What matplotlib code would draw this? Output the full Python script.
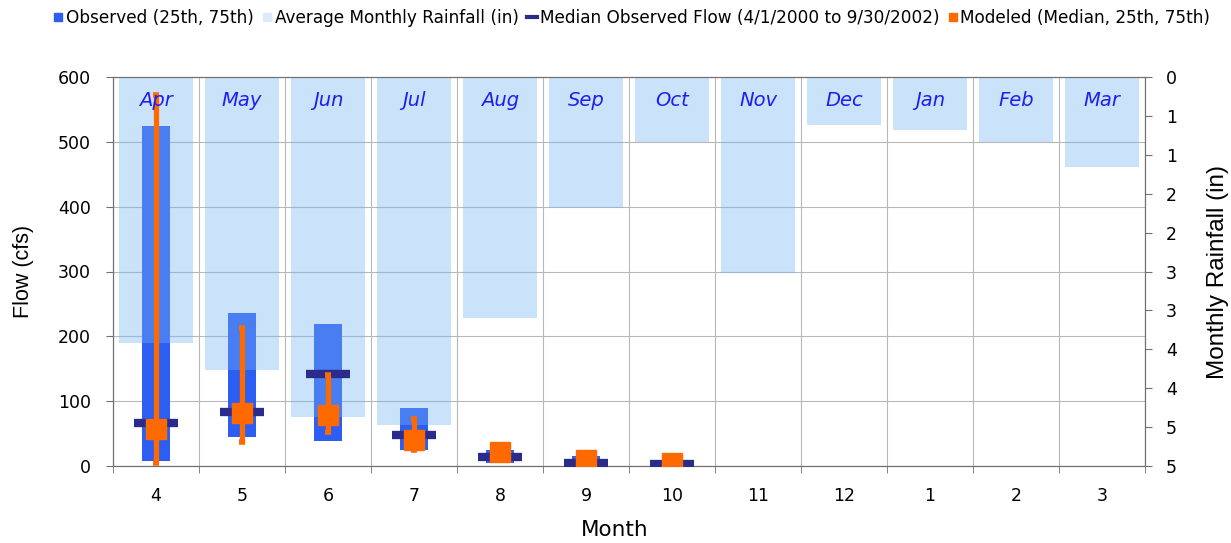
import numpy as np
import matplotlib
matplotlib.use("Agg")
import matplotlib.pyplot as plt
from matplotlib.lines import Line2D
import matplotlib.transforms as mtransforms

plt.rcParams['font.family'] = ['DejaVu Sans']

# ---- data ----
month_nums = ['4', '5', '6', '7', '8', '9', '10', '11', '12', '1', '2', '3']
month_names = ['Apr', 'May', 'Jun', 'Jul', 'Aug', 'Sep', 'Oct', 'Nov', 'Dec', 'Jan', 'Feb', 'Mar']
rainfall_in = [3.42, 3.77, 4.37, 4.47, 3.10, 1.68, 0.84, 2.52, 0.62, 0.68, 0.84, 1.16]
obs_p25 = [8, 44, 39, 24, 5, 1, 0, np.nan, np.nan, np.nan, np.nan, np.nan]
obs_p75 = [525, 236, 219, 90, 25, 15, 8, np.nan, np.nan, np.nan, np.nan, np.nan]
obs_median = [67, 83, 142, 48, 14, 4, 3, np.nan, np.nan, np.nan, np.nan, np.nan]
mod_median = [57, 82, 79, 40, 22, 9, 5, np.nan, np.nan, np.nan, np.nan, np.nan]
mod_p25 = [5, 37, 52, 25, 18, 6, 3, np.nan, np.nan, np.nan, np.nan, np.nan]
mod_p75 = [572, 213, 140, 72, 28, 12, 7, np.nan, np.nan, np.nan, np.nan, np.nan]
right_tick_vals = [0, 0.5, 1, 1.5, 2, 2.5, 3, 3.5, 4, 4.5, 5]
right_tick_labels = ['0', '1', '1', '2', '2', '3', '3', '4', '4', '5', '5']

x = np.arange(len(month_nums))
obs_p25 = np.array(obs_p25, float)
obs_p75 = np.array(obs_p75, float)
mod_median = np.array(mod_median, float)
mod_p25 = np.array(mod_p25, float)
mod_p75 = np.array(mod_p75, float)

fig = plt.figure(figsize=(12.31, 5.43), dpi=100)
pos = [113/1231, 1-466/543, (1145-113)/1231, (466-77)/543]
ax = fig.add_axes(pos)
ax2 = ax.twinx()
ax3 = fig.add_axes(pos, sharex=ax, sharey=ax)
ax3.set_axis_off()

obs_color = '#2d5ef3'
rain_color = '#75b4f2'
med_color = '#2b2b8c'
mod_color = '#ff6a00'
spine_color = '#707070'
vlabel_font = ['Liberation Sans', 'DejaVu Sans']

# observed bars (under)
ax.bar(x, obs_p75 - obs_p25, bottom=obs_p25, width=0.33, color=obs_color, zorder=3)

# rainfall (inverted axis)
ax2.bar(x, rainfall_in, width=0.86, color=rain_color, alpha=0.38, zorder=2)
ax2.set_ylim(5, 0)
ax2.set_yticks(right_tick_vals)
ax2.set_yticklabels(right_tick_labels)
ax2.set_ylabel('Monthly Rainfall (in)', fontsize=17.5, labelpad=22, family=vlabel_font)
ax2.tick_params(axis='y', labelsize=12.5, direction='out', length=5, color=spine_color, pad=10)

# median + modeled on top
ax3.plot(x, obs_median, linestyle='none', marker='_', markersize=31, markeredgewidth=6,
         color=med_color, zorder=5)
ax3.errorbar(x, mod_median, yerr=[mod_median - mod_p25, mod_p75 - mod_median],
             fmt='s', markersize=14, color=mod_color, ecolor=mod_color, elinewidth=3.8,
             capsize=2.5, capthick=4, zorder=6)

# month name labels
trans = mtransforms.blended_transform_factory(ax3.transData, ax3.transAxes)
for xi, name in zip(x, month_names):
    ax3.text(xi, 0.94, name, transform=trans, ha='center', va='center',
             fontsize=14, style='italic', color='#1e1ef0', zorder=7)

ax.set_xlim(-0.5, len(month_nums) - 0.5)
ax.set_ylim(0, 600)
ax.set_yticks(np.arange(0, 601, 100))
ax.set_xticks(x)
ax.set_xticklabels(month_nums)
ax.set_xticks(np.arange(-0.5, len(month_nums)), minor=True)
ax.tick_params(axis='x', which='major', length=0, labelsize=12.5, pad=15)
ax.tick_params(axis='x', which='minor', length=5, direction='out', color=spine_color)
ax.tick_params(axis='y', labelsize=12.5, direction='out', length=5, color=spine_color, pad=11)
ax.set_xlabel('Month', fontsize=15.5, labelpad=11, x=0.486)
ax.set_ylabel('Flow (cfs)', fontsize=15.5, labelpad=17, family=vlabel_font)
ax.grid(axis='y', which='major', color='#b8b8b8', linewidth=0.8, zorder=0)
ax.grid(axis='x', which='minor', color='#b8b8b8', linewidth=0.8, zorder=0)
ax.set_axisbelow(True)
for a in (ax, ax2):
    for s in a.spines.values():
        s.set_color(spine_color)

handles = [
    Line2D([], [], linestyle='none', marker='s', markersize=6, color=obs_color),
    Line2D([], [], linestyle='none', marker='s', markersize=6, color='#dbe9fb'),
    Line2D([], [], color=med_color, linewidth=3),
    Line2D([], [], linestyle='none', marker='s', markersize=6, color=mod_color),
]
labels = ['Observed (25th, 75th)', 'Average Monthly Rainfall (in)',
          'Median Observed Flow (4/1/2000 to 9/30/2002)', 'Modeled (Median, 25th, 75th)']
fig.legend(handles, labels, loc='upper center', bbox_to_anchor=(0.513, 1.012), ncol=4,
           frameon=False, fontsize=12.2, handlelength=0.6, handletextpad=0.15,
           columnspacing=0.5)

fig.savefig('out.png', dpi=100)
